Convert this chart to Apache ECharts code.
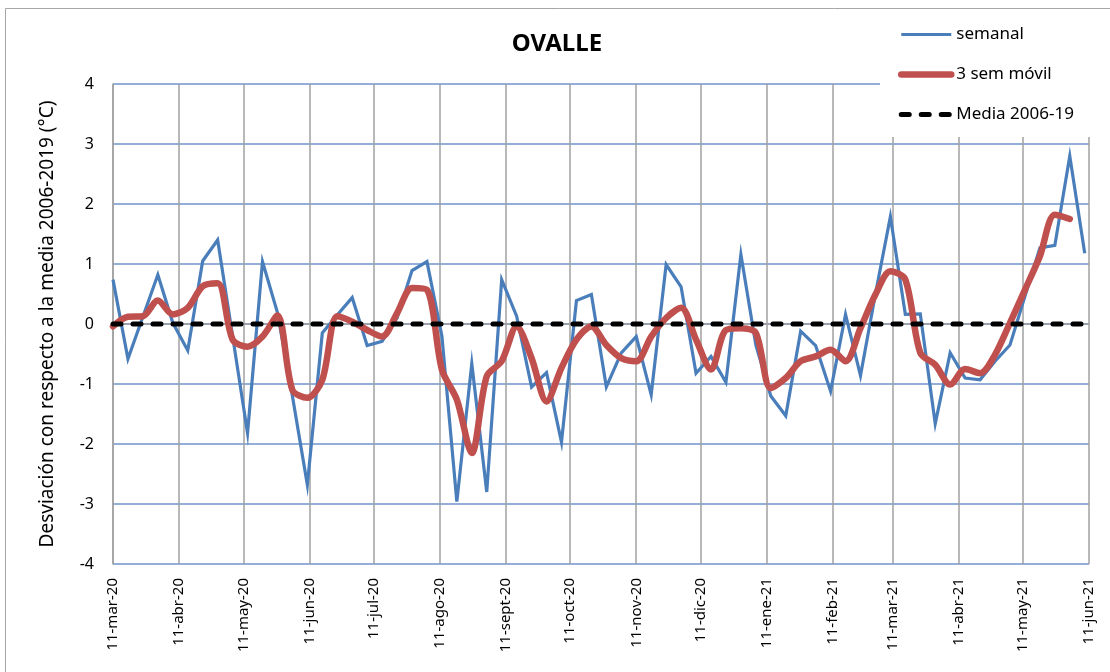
<!DOCTYPE html>
<html>
<head>
<meta charset="utf-8">
<title>OVALLE</title>
<script src="https://cdn.jsdelivr.net/npm/echarts@6.0.0/dist/echarts.min.js"></script>
<style>
  html, body { margin: 0; padding: 0; background: #fff; }
  #main { width: 1110px; height: 672px; }
</style>
</head>
<body>
<div id="main"></div>
<script>
// primera semana de la serie
const startDate = [2020, 3, 11]

// desviación semanal (°C)
const semanal = [
  0.74, -0.58, 0.12, 0.82, 0.02, -0.44, 1.05, 1.40, -0.20, -1.82,
  1.04, 0.19, -1.20, -2.68, -0.15, 0.15, 0.44, -0.36, -0.29, 0.10,
  0.89, 1.04, -0.20, -2.96, -0.66, -2.80, 0.74, 0.13, -1.05, -0.81,
  -1.97, 0.39, 0.49, -1.05, -0.48, -0.21, -1.18, 0.99, 0.62, -0.82,
  -0.54, -0.97, 1.16, -0.35, -1.20, -1.53, -0.12, -0.36, -1.12, 0.16,
  -0.86, 0.50, 1.79, 0.16, 0.17, -1.66, -0.48, -0.90, -0.93, -0.62,
  -0.35, 0.46, 1.27, 1.31, 2.80, 1.18
]

// media móvil de 3 semanas (°C)
const movil3 = [
  -0.04, 0.12, 0.13, 0.39, 0.16, 0.27, 0.63, 0.68, -0.26, -0.38,
  -0.21, 0.14, -1.10, -1.23, -0.93, 0.13, 0.04, -0.10, -0.21, 0.18,
  0.60, 0.57, -0.76, -1.26, -2.15, -0.87, -0.62, -0.04, -0.57, -1.29,
  -0.73, -0.26, -0.04, -0.35, -0.57, -0.62, -0.21, 0.10, 0.27, -0.26,
  -0.76, -0.10, -0.07, -0.15, -1.07, -0.90, -0.62, -0.54, -0.43, -0.62,
  -0.07, 0.49, 0.88, 0.74, -0.48, -0.68, -1.01, -0.75, -0.82, -0.51,
  0.02, 0.57, 1.13, 1.82, 1.75
]

// media 2006-19 (referencia)
const media = [0, 0]

// marcas del eje x
const tickDates = [
  [2020, 3, 11], [2020, 4, 11], [2020, 5, 11], [2020, 6, 11], [2020, 7, 11], [2020, 8, 11],
  [2020, 9, 11], [2020, 10, 11], [2020, 11, 11], [2020, 12, 11], [2021, 1, 11], [2021, 2, 11],
  [2021, 3, 11], [2021, 4, 11], [2021, 5, 11], [2021, 6, 11]
]
const tickLabels = [
  '11-mar-20', '11-abr-20', '11-may-20', '11-jun-20', '11-jul-20', '11-ago-20',
  '11-sept-20', '11-oct-20', '11-nov-20', '11-dic-20', '11-ene-21', '11-feb-21',
  '11-mar-21', '11-abr-21', '11-may-21', '11-jun-21'
]

// días desde el inicio (eje x numérico)
const t0 = Date.UTC(startDate[0], startDate[1] - 1, startDate[2])
function dias(d) {
  return Math.round((Date.UTC(d[0], d[1] - 1, d[2]) - t0) / 86400000)
}

const tickDays = tickDates.map(d => dias(d))
const semanalData = semanal.map((v, k) => [7 * k, v])
const movilData = movil3.map((v, k) => [7 * k, v])
const mediaData = [[0, media[0]], [7 * (semanal.length - 1), media[1]]]

const font = "'Noto Sans', 'Open Sans', sans-serif"

let myChart = echarts.init(document.getElementById('main'))
let option = {
  animation: false,
  backgroundColor: '#fff',
  textStyle: { fontFamily: font, color: '#000' },
  title: {
    text: 'OVALLE',
    left: 552,
    top: 27,
    textAlign: 'center',
    textStyle: { fontFamily: font, fontSize: 24, fontWeight: 'bold', color: '#000' }
  },
  legend: {
    orient: 'vertical',
    left: 880,
    top: 16,
    padding: [10, 40, 14, 18],
    backgroundColor: '#fff',
    itemWidth: 50,
    itemHeight: 14,
    itemGap: 23,
    z: 10,
    itemStyle: { opacity: 0 },
    textStyle: { fontFamily: font, fontSize: 17, color: '#000' },
    data: [
      { name: 'semanal', lineStyle: { width: 3.2 } },
      { name: '3 sem móvil', lineStyle: { width: 6.5 } },
      { name: 'Media 2006-19', lineStyle: { width: 5 } }
    ]
  },
  grid: {
    left: 113,
    right: 21,
    top: 84,
    bottom: 108,
    containLabel: false
  },
  xAxis: {
    type: 'value',
    min: tickDays[0],
    max: tickDays[tickDays.length - 1],
    axisLine: { show: true, lineStyle: { color: '#a0a0a0', width: 1.5 } },
    axisTick: { show: false, customValues: tickDays },
    splitLine: { show: true, lineStyle: { color: '#a0a0a0', width: 1.5 } },
    axisLabel: {
      customValues: tickDays,
      rotate: 90,
      margin: 14,
      fontSize: 15,
      color: '#000',
      fontFamily: font,
      hideOverlap: false,
      formatter: function (value) {
        let i = tickDays.indexOf(value)
        return i >= 0 ? tickLabels[i] : ''
      }
    }
  },
  yAxis: {
    type: 'value',
    min: -4,
    max: 4,
    interval: 1,
    name: 'Desviación con respecto a la media 2006-2019 (°C)',
    nameLocation: 'middle',
    nameRotate: 90,
    nameGap: 56,
    nameTextStyle: { fontFamily: font, fontSize: 19, color: '#000' },
    axisLine: { show: true, lineStyle: { color: '#a0a0a0', width: 1.5 } },
    axisTick: { show: false },
    axisLabel: { margin: 19, fontSize: 16, color: '#000', fontFamily: font },
    splitLine: { show: true, lineStyle: { color: '#6f95cc', width: 1.5 } }
  },
  graphic: [
    {
      type: 'rect',
      shape: { x: 5.5, y: 8.5, width: 1120, height: 680 },
      style: { fill: 'none', stroke: '#a6a6a6', lineWidth: 1 },
      silent: true
    }
  ],
  series: [
    {
      name: 'semanal',
      type: 'line',
      data: semanalData,
      symbol: 'none',
      lineStyle: { color: '#4a7ebb', width: 3.2, join: 'miter' },
      itemStyle: { color: '#4a7ebb' }
    },
    {
      name: '3 sem móvil',
      type: 'line',
      data: movilData,
      symbol: 'none',
      smooth: 0.3,
      lineStyle: { color: '#c0504d', width: 6.5, cap: 'round' },
      itemStyle: { color: '#c0504d' }
    },
    {
      name: 'Media 2006-19',
      type: 'line',
      data: mediaData,
      symbol: 'none',
      lineStyle: { color: '#000', width: 5, type: [8, 12], cap: 'round' },
      itemStyle: { color: '#000' }
    }
  ]
}
myChart.setOption(option)
</script>
</body>
</html>
